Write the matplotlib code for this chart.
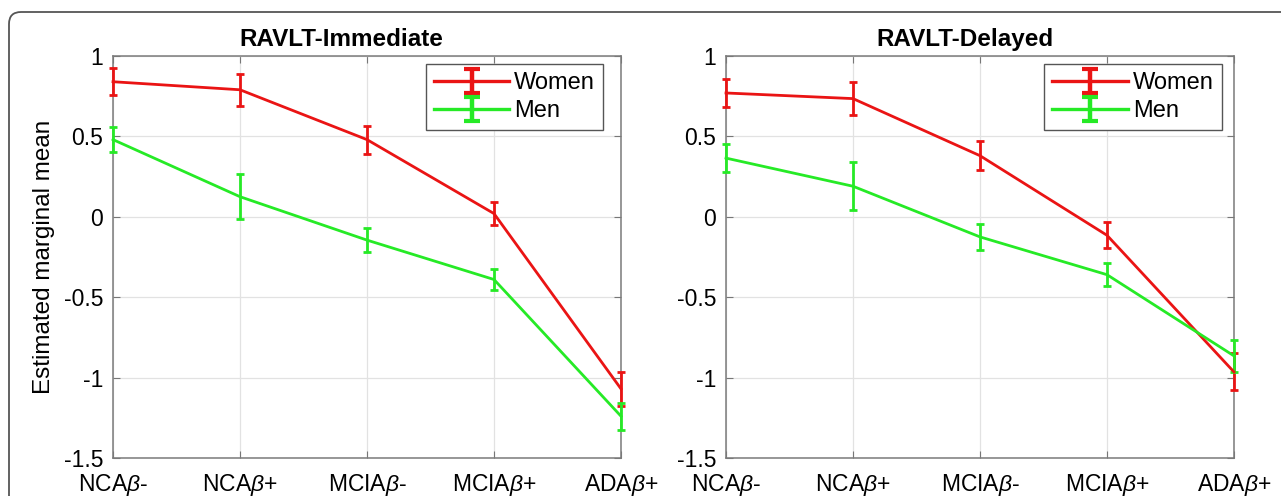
import matplotlib
matplotlib.use('Agg')
import matplotlib.pyplot as plt
import numpy as np
from matplotlib.patches import FancyBboxPatch
from matplotlib.transforms import IdentityTransform

plt.rcParams['font.family'] = ['Liberation Sans', 'DejaVu Sans']
plt.rcParams['mathtext.fontset'] = 'custom'
plt.rcParams['mathtext.rm'] = 'Liberation Sans'
plt.rcParams['mathtext.it'] = 'Liberation Sans:italic'

groups = [r'NCA$\beta$-', r'NCA$\beta$+', r'MCIA$\beta$-', r'MCIA$\beta$+', r'ADA$\beta$+']
yticks = [-1.5, -1, -0.5, 0, 0.5, 1]
ytick_labels = ['-1.5', '-1', '-0.5', '0', '0.5', '1']

# RAVLT-Immediate
imm_women = [0.84, 0.79, 0.48, 0.02, -1.07]
imm_women_err = [0.085, 0.10, 0.087, 0.07, 0.105]
imm_men = [0.48, 0.125, -0.145, -0.39, -1.24]
imm_men_err = [0.08, 0.14, 0.073, 0.065, 0.085]

# RAVLT-Delayed
del_women = [0.77, 0.735, 0.38, -0.115, -0.965]
del_women_err = [0.09, 0.105, 0.09, 0.08, 0.115]
del_men = [0.365, 0.19, -0.125, -0.36, -0.865]
del_men_err = [0.085, 0.15, 0.08, 0.07, 0.10]

red = '#ea1414'
green = '#26ea26'

fig = plt.figure(figsize=(12.81, 4.96), dpi=100)

# rounded frame around the figure (cropped on right / bottom)
frame = FancyBboxPatch((9, -40), 1400, 496 - 12 + 40, boxstyle='round,pad=0,rounding_size=12',
                       transform=IdentityTransform(), fill=False, edgecolor='#555555', linewidth=1.3)
fig.add_artist(frame)

# title x, legend right edge (axes fraction)
panels = [
    ('RAVLT-Immediate', imm_women, imm_women_err, imm_men, imm_men_err, 113, 0.45, 0.965),
    ('RAVLT-Delayed', del_women, del_women_err, del_men, del_men_err, 726, 0.47, 0.976),
]

for i, (title, w, we, m, me, left_px, tx, lx) in enumerate(panels):
    ax = fig.add_axes([left_px / 1281, 38 / 496, 508 / 1281, 402 / 496])
    x = list(range(len(groups)))
    ax.errorbar(x, w, yerr=we, color=red, lw=2, elinewidth=2, capsize=3, capthick=2,
                clip_on=False, zorder=3)
    ax.errorbar(x, m, yerr=me, color=green, lw=2, elinewidth=2, capsize=3, capthick=2,
                clip_on=False, zorder=3)
    # legend proxies (bigger caps like the reference legend)
    hw = ax.errorbar([np.nan], [np.nan], yerr=[0.1], color=red, lw=2.4, elinewidth=3.2,
                     capsize=5.5, capthick=3, label='Women')
    hm = ax.errorbar([np.nan], [np.nan], yerr=[0.1], color=green, lw=2.4, elinewidth=3.2,
                     capsize=5.5, capthick=3, label='Men')
    ax.set_xlim(0, 4)
    ax.set_ylim(-1.5, 1)
    ax.set_xticks(x)
    ax.set_xticklabels(groups)
    ax.set_yticks(yticks)
    ax.set_yticklabels(ytick_labels)
    ax.grid(True, color='#e2e2e2', lw=0.9)
    ax.set_axisbelow(True)
    ax.tick_params(direction='in', length=5, color='#777777', labelsize=16.5,
                   top=True, right=True)
    ax.tick_params(axis='x', pad=10)
    ax.tick_params(axis='y', pad=7)
    for s in ax.spines.values():
        s.set_color('#7a7a7a')
        s.set_linewidth(1.1)
    ax.set_title(title, fontsize=17.5, fontweight='bold', pad=7, x=tx)
    if i == 0:
        ax.set_ylabel('Estimated marginal mean', fontsize=17.5, labelpad=6)
    leg = ax.legend(handles=[hw, hm], loc='upper right', bbox_to_anchor=(lx, 0.98),
                    fontsize=17, handlelength=3.2, handletextpad=0.2,
                    fancybox=False, framealpha=1, edgecolor='#555555', borderpad=0.35,
                    labelspacing=0.25, borderaxespad=0)
    leg.get_frame().set_linewidth(1.0)

fig.savefig('out.png', dpi=100)
